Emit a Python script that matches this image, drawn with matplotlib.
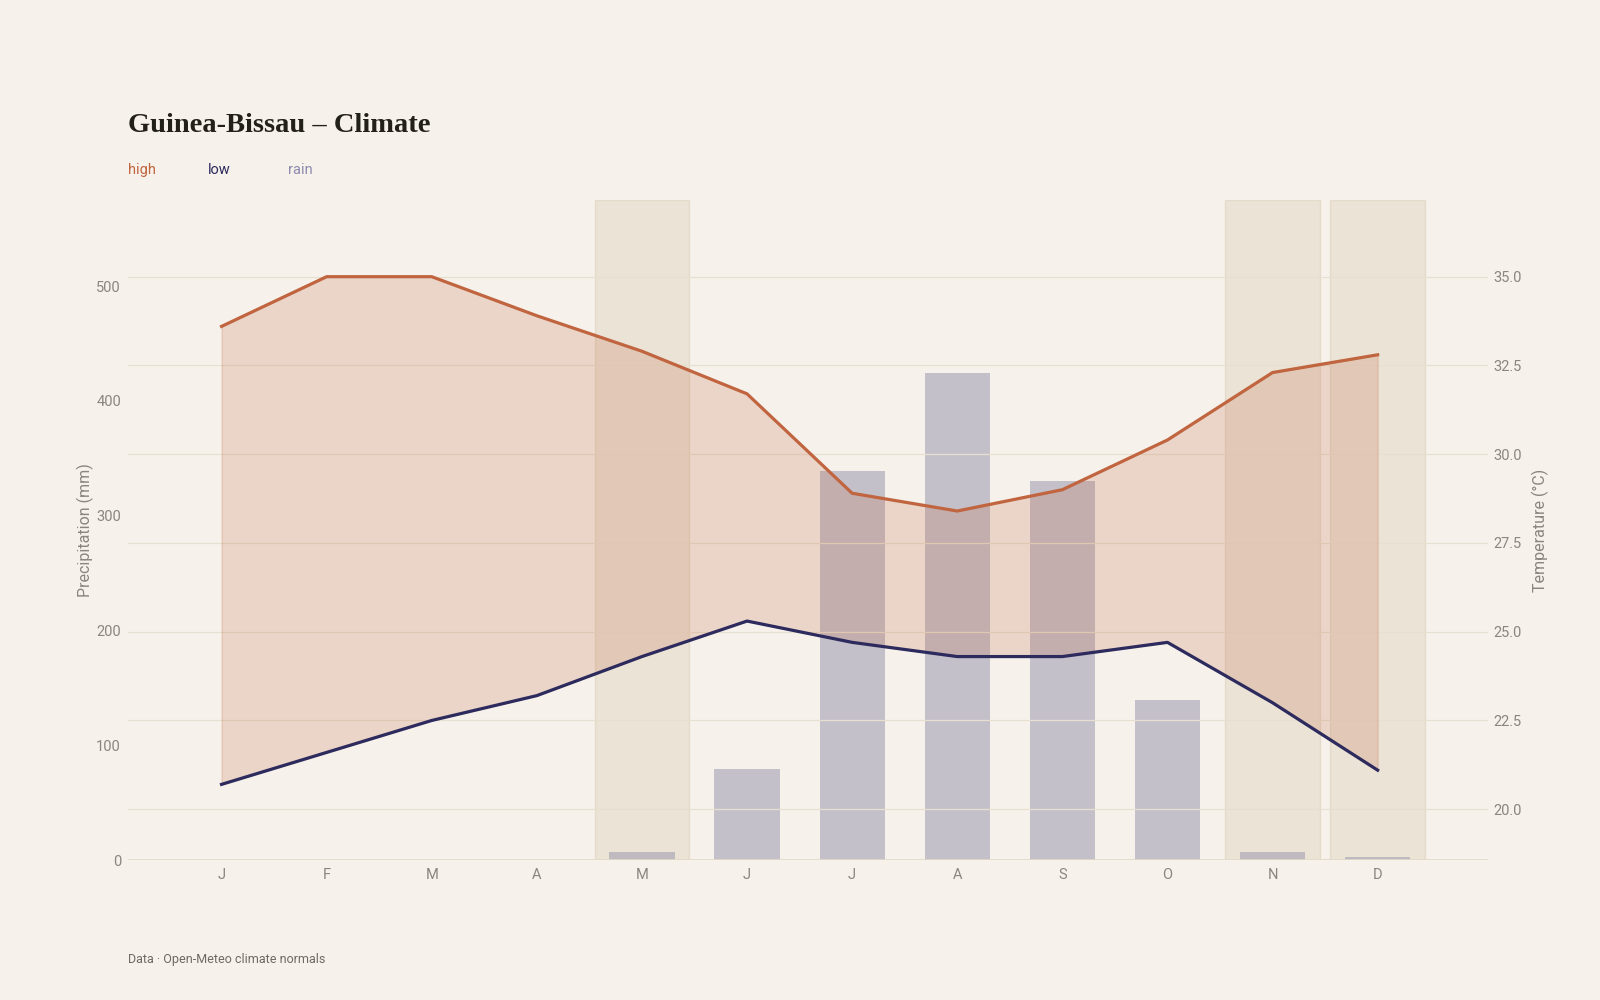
import matplotlib.pyplot as plt
import numpy as np

# climate normals
months = ['J', 'F', 'M', 'A', 'M', 'J', 'J', 'A', 'S', 'O', 'N', 'D']
high = [33.6, 35.0, 35.0, 33.9, 32.9, 31.7, 28.9, 28.4, 29.0, 30.4, 32.3, 32.8]
low = [20.7, 21.6, 22.5, 23.2, 24.3, 25.3, 24.7, 24.3, 24.3, 24.7, 23.0, 21.1]
rain = [0, 0, 0, 0, 7, 79, 339, 424, 330, 139, 7, 3]
highlight = [4, 10, 11]

bg = '#F6F2EB'
c_high = '#C0653F'
c_low = '#2D2A5E'
c_rain = '#9C98AE'
c_tick = '#8A857E'
c_grid = '#E7E0D0'

plt.rcParams['font.family'] = ['Roboto', 'DejaVu Sans']

fig = plt.figure(figsize=(16, 10), dpi=100, facecolor=bg)
ax = fig.add_axes([0.08, 0.14, 0.85, 0.66])
ax.set_facecolor(bg)
ax2 = ax.twinx()

x = np.arange(len(months))

for i in highlight:
    ax.axvspan(i - 0.45, i + 0.45, facecolor='#E3D8C5', alpha=0.55,
               edgecolor='#DCCFB8', lw=1, zorder=0)

ax.bar(x, rain, width=0.62, color=c_rain, alpha=0.55, zorder=1)
ax.axhline(0, color='#E2D9C6', lw=1.2, zorder=2)

ax2.set_axisbelow(True)
ax2.grid(axis='y', color=c_grid, lw=0.9)
ax2.fill_between(x, low, high, color=c_high, alpha=0.2, lw=1, zorder=2)
ax2.plot(x, high, color=c_high, lw=2.3, zorder=3)
ax2.plot(x, low, color=c_low, lw=2.3, zorder=3)

ax.set_xlim(-0.89, 12.05)
ax.set_ylim(0, 575)
ax2.set_ylim(18.57, 37.16)

ax.set_xticks(x)
ax.set_xticklabels(months)
ax.set_yticks([0, 100, 200, 300, 400, 500])
ax2.set_yticks([20, 22.5, 25, 27.5, 30, 32.5, 35])
ax2.set_yticklabels(['%.1f' % v for v in [20, 22.5, 25, 27.5, 30, 32.5, 35]])

for a in (ax, ax2):
    for s in a.spines.values():
        s.set_visible(False)
    a.tick_params(length=0, labelsize=10.5, labelcolor=c_tick)
ax.tick_params(axis='x', pad=6)
ax.tick_params(axis='y', pad=5)
ax2.tick_params(axis='y', pad=4)

ax.set_ylabel('Precipitation (mm)', fontsize=11.5, color=c_tick, labelpad=2)
ax2.set_ylabel('Temperature (°C)', fontsize=11.5, color=c_tick, labelpad=7)

fig.text(0.08, 0.874, 'Guinea-Bissau – Climate', fontsize=20.5, fontweight='bold',
         family=['Liberation Serif', 'DejaVu Serif'], color='#222019', va='center')
fig.text(0.08, 0.830, 'high', fontsize=10.5, color=c_high, va='center')
fig.text(0.130, 0.830, 'low', fontsize=10.5, color=c_low, va='center')
fig.text(0.180, 0.830, 'rain', fontsize=10.5, color='#8E8AAE', va='center')
fig.text(0.08, 0.041, 'Data · Open-Meteo climate normals', fontsize=9,
         color='#6E6962', va='center')

fig.savefig('out.png', dpi=100, facecolor=bg)
